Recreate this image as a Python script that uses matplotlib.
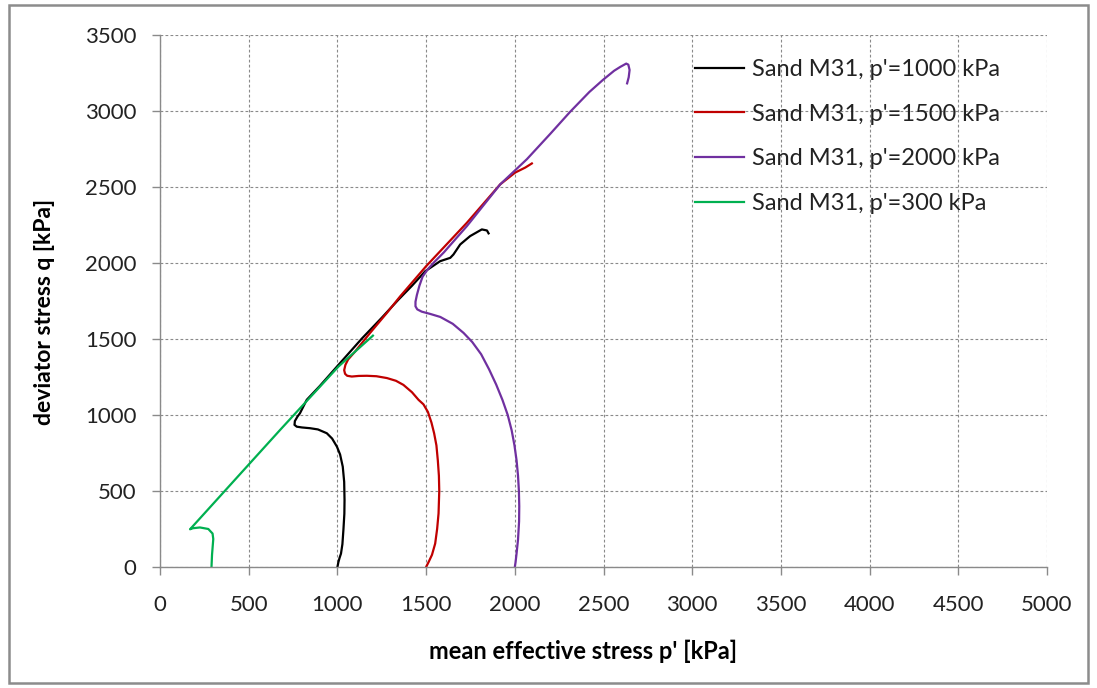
import matplotlib
matplotlib.use("Agg")
import matplotlib.pyplot as plt
from matplotlib.patches import Rectangle

# mean effective stress p' [kPa] and deviator stress q [kPa]
p_1000 = [1000, 1005, 1012, 1020, 1028, 1034, 1039, 1040, 1038, 1030, 1015, 997, 970, 940,
          890, 846, 800, 771, 758, 760, 775, 789, 827, 900, 1006, 1137, 1250, 1344, 1420,
          1495, 1579, 1636, 1654, 1692, 1748, 1814, 1843, 1852]
q_1000 = [0, 30, 60, 88, 150, 250, 350, 440, 560, 660, 740, 792, 845, 880,
          905, 913, 918, 923, 935, 960, 990, 1012, 1100, 1190, 1330, 1502, 1640, 1759, 1850,
          1946, 2012, 2034, 2056, 2122, 2177, 2221, 2214, 2195]

p_1500 = [1500, 1515, 1533, 1551, 1562, 1570, 1574, 1572, 1566, 1558, 1545, 1530, 1510,
          1485, 1457, 1420, 1372, 1330, 1279, 1220, 1166, 1120, 1081, 1055, 1043, 1038,
          1045, 1060, 1100, 1184, 1279, 1354, 1500, 1730, 1918, 2002, 2059, 2096]
q_1500 = [0, 35, 80, 154, 250, 352, 500, 600, 700, 800, 880, 950, 1020,
          1070, 1100, 1150, 1198, 1225, 1243, 1255, 1258, 1257, 1253, 1258, 1271, 1295,
          1330, 1365, 1418, 1540, 1672, 1781, 1979, 2265, 2518, 2595, 2628, 2655]

p_2000 = [2000, 2004, 2010, 2018, 2024, 2025, 2023, 2018, 2010, 1998, 1982, 1960, 1930,
          1895, 1855, 1810, 1760, 1711, 1650, 1580, 1523, 1475, 1450, 1440, 1440, 1448,
          1462, 1480, 1510, 1545, 1600, 1730, 1918, 2068, 2200, 2312, 2420, 2497, 2560,
          2594, 2628, 2640, 2647, 2642, 2633]
q_2000 = [0, 30, 90, 180, 300, 400, 500, 600, 700, 800, 900, 1000, 1100,
          1200, 1300, 1400, 1480, 1540, 1600, 1645, 1665, 1680, 1695, 1715, 1745, 1790,
          1850, 1910, 1960, 2005, 2070, 2243, 2518, 2683, 2850, 2995, 3125, 3205, 3265,
          3290, 3312, 3305, 3270, 3222, 3182]

p_300 = [290, 293, 300, 296, 272, 225, 185, 169, 677, 1006, 1200]
q_300 = [0, 80, 184, 220, 250, 260, 255, 248, 902, 1319, 1522]

labels = ["Sand M31, p'=1000 kPa", "Sand M31, p'=1500 kPa",
          "Sand M31, p'=2000 kPa", "Sand M31, p'=300 kPa"]
colors = ["#000000", "#C00000", "#7030A0", "#00B050"]

plt.rcParams["font.family"] = ["Lato", "DejaVu Sans"]

fig = plt.figure(figsize=(10.97, 6.88), dpi=100)
ax = fig.add_axes([0.1459, 0.1759, 0.8085, 0.7732])

# outer chart border
fig.patches.append(Rectangle((0.008, 0.007), 0.984, 0.986, transform=fig.transFigure,
                             fill=False, edgecolor="#8c8c8c", linewidth=1.8))

series = [(p_1000, q_1000), (p_1500, q_1500), (p_2000, q_2000), (p_300, q_300)]
for (p, q), lab, c in zip(series, labels, colors):
    ax.plot(p, q, color=c, linewidth=1.6, label=lab, solid_joinstyle="round")

ax.set_xlim(0, 5000)
ax.set_ylim(0, 3500)
ax.set_xticks(range(0, 5001, 500))
ax.set_yticks(range(0, 3501, 500))

ax.grid(True, color="#8a8a8a", linestyle=(0, (2.5, 2)), linewidth=0.8)
ax.set_axisbelow(True)
for s in ["top", "right"]:
    ax.spines[s].set_visible(False)
for s in ["left", "bottom"]:
    ax.spines[s].set_color("#8a8a8a")
    ax.spines[s].set_linewidth(1.0)

ax.tick_params(axis="both", direction="out", length=6, width=1.0, color="#8a8a8a",
               labelsize=16, labelcolor="#222222")
ax.tick_params(axis="y", pad=11)
ax.tick_params(axis="x", pad=14)

ax.set_xlabel("mean effective stress p' [kPa]", fontsize=17, fontweight="bold")
ax.set_ylabel("deviator stress q [kPa]", fontsize=16.5, fontweight="bold")
ax.xaxis.set_label_coords(0.477, -0.136)
ax.yaxis.set_label_coords(-0.118, 0.48)

ax.legend(loc="upper left", bbox_to_anchor=(0.603, 0.955), frameon=False, fontsize=17,
          handlelength=2.1, handletextpad=0.3, labelspacing=1.0, borderpad=0,
          borderaxespad=0, labelcolor="#222222")

fig.savefig("out.png", dpi=100)
